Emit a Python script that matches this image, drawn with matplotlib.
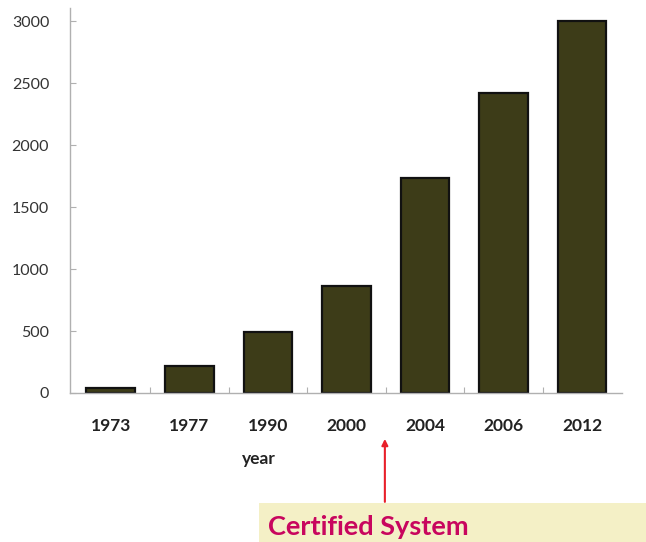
import numpy as np
from matplotlib import pyplot as plt
from matplotlib.patches import Rectangle

years = ["1973", "1977", "1990", "2000", "2004", "2006", "2012"]
counts = [40, 220, 490, 865, 1730, 2420, 3000]
yticks = [0, 500, 1000, 1500, 2000, 2500, 3000]

axis_gray = "#b0b0b0"
bar_color = "#3d3c18"
font = "Lato"

fig = plt.figure(figsize=(6.46, 5.42), dpi=100)
ax = fig.add_axes([70/646, 1 - 393/542, 552/646, 385/542])

x = np.arange(len(years))
ax.bar(x, counts, width=0.62, color=bar_color, edgecolor="#111111", linewidth=1.6)

ax.set_xlim(-0.52, 6.51)
ax.set_ylim(0, 3105)

# no labels on the x ticks; they sit between the bars
ax.set_xticks(x[:-1] + 0.5)
ax.set_xticklabels([])
ax.tick_params(axis="x", direction="in", length=4, color=axis_gray)
for xi, yr in zip(x, years):
    ax.text(xi, -0.085, yr, transform=ax.get_xaxis_transform(), ha="center", va="center",
            fontsize=12.5, fontweight="bold", color="#222222", family=font)

ax.set_yticks(yticks)
ax.set_yticklabels([str(v) for v in yticks], fontsize=11.5, color="#333333", family=font)
ax.tick_params(axis="y", direction="in", length=4, color=axis_gray, pad=15)

for side in ["top", "right"]:
    ax.spines[side].set_visible(False)
for side in ["left", "bottom"]:
    ax.spines[side].set_color(axis_gray)
    ax.spines[side].set_linewidth(1.0)

ax.text(1.88, -0.172, "year", transform=ax.get_xaxis_transform(), ha="center", va="center",
        fontsize=12.5, fontweight="bold", color="#222222", family=font)

# arrow pointing at the gap between 2000 and 2004
ax.annotate("", xy=(3.49, -0.112), xytext=(3.49, -0.29),
            xycoords=("data", "axes fraction"), textcoords=("data", "axes fraction"),
            arrowprops=dict(arrowstyle="-|>", color="#e8202a", lw=1.5, mutation_scale=9),
            annotation_clip=False)

fig.patches.append(Rectangle((259/646, 0), 1 - 259/646, 39/542, transform=fig.transFigure,
                             facecolor="#f4f0c6", edgecolor="none", zorder=0))
fig.text(268/646, 15/542, "Certified System", ha="left", va="center", fontsize=19.5,
         fontweight="bold", color="#c8065e", family=font)

fig.savefig("out.png", dpi=100)
